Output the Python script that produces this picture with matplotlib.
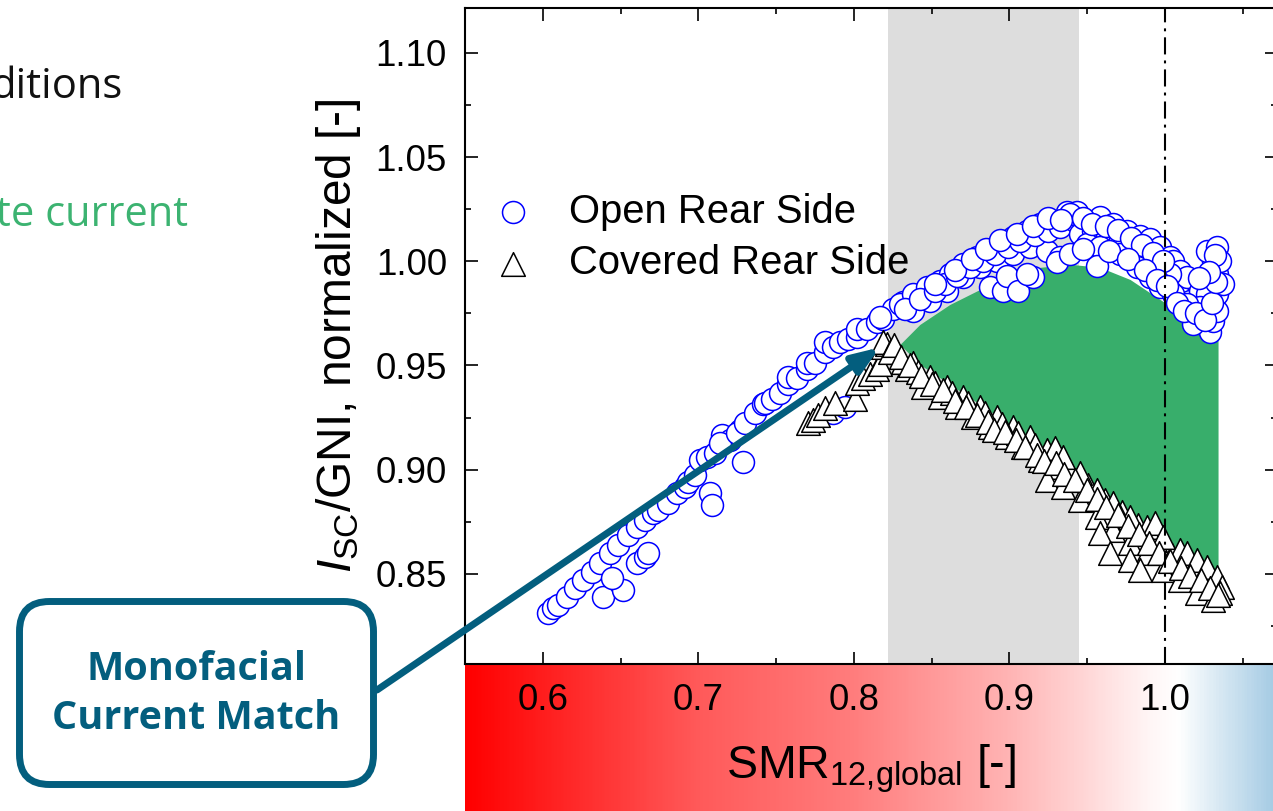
import matplotlib
matplotlib.use("Agg")
import matplotlib.pyplot as plt
import numpy as np
from matplotlib.colors import LinearSegmentedColormap
from matplotlib.patches import FancyBboxPatch
from matplotlib.ticker import MultipleLocator

plt.rcParams['font.family'] = 'Liberation Sans'
plt.rcParams['mathtext.fontset'] = 'custom'
plt.rcParams['mathtext.rm'] = 'Liberation Sans'
plt.rcParams['mathtext.it'] = 'Liberation Sans:italic'

# --- data ---
open_x = [0.6032, 0.6064, 0.6096, 0.6154, 0.6206, 0.6257, 0.6315, 0.6367, 0.6431, 0.6482,
          0.6547, 0.6605, 0.6656, 0.6707, 0.6740, 0.6804, 0.6862, 0.6913, 0.6932, 0.6977,
          0.7010, 0.7055, 0.7106, 0.7151, 0.7203, 0.7267,
          0.6386, 0.6514, 0.6444, 0.6605, 0.6656, 0.6675, 0.7074, 0.7087, 0.7286,
          0.7138, 0.7248, 0.7299, 0.7363, 0.7415, 0.7428, 0.7473, 0.7524, 0.7576, 0.7576,
          0.7633, 0.7698, 0.7698, 0.7749, 0.7814, 0.7814, 0.7865, 0.7910, 0.7961, 0.8019,
          0.8019, 0.8084, 0.8148, 0.8186, 0.8251, 0.8315, 0.8379, 0.7865, 0.7942,
          0.8167, 0.8296, 0.8379, 0.8469, 0.8553, 0.8617, 0.8701, 0.8791, 0.8875, 0.8958,
          0.9022, 0.9113, 0.9196, 0.9280, 0.9370, 0.9434,
          0.8379, 0.8489, 0.8598, 0.8701, 0.8810, 0.8920, 0.9022, 0.9132, 0.9241, 0.9325,
          0.8875, 0.8958, 0.8984, 0.9055, 0.9151, 0.9113, 0.9305,
          0.8328, 0.8424, 0.8521, 0.8585, 0.8662, 0.8746, 0.8830, 0.8907, 0.8990, 0.9068,
          0.9164, 0.9248, 0.9325, 0.9421,
          0.9389, 0.9498, 0.9582, 0.9666, 0.9756, 0.9839, 0.9904, 0.9968, 1.0032,
          0.9453, 0.9537, 0.9627, 0.9711, 0.9794, 0.9871, 0.9936, 1.0000,
          0.9389, 0.9498, 0.9582, 0.9711, 0.9820, 0.9904, 0.9968, 0.9563,
          1.0051, 1.0096, 1.0077, 1.0141, 1.0161, 1.0180, 1.0225, 1.0244, 1.0289, 1.0309,
          1.0334, 1.0334, 1.0354, 1.0334, 1.0309, 1.0270, 1.0334, 1.0354, 1.0373, 1.0270,
          1.0225, 1.0180, 1.0032, 1.0051, 1.0141,
          0.8520, 0.8650, 0.8760, 0.8850, 0.8940, 0.9050, 0.9150, 0.9250, 0.9330, 0.9470,
          0.9530, 0.9620, 0.9700, 0.9780, 0.9850, 0.9920, 0.9990, 0.9470, 0.9640, 0.9760,
          0.9870, 0.9950, 1.0010, 1.0080, 1.0120, 1.0200, 1.0260, 1.0300, 1.0330, 1.0320,
          1.0280, 1.0220]
open_y = [0.8313, 0.8337, 0.8351, 0.8389, 0.8433, 0.8471, 0.8510, 0.8553, 0.8601, 0.8639,
          0.8688, 0.8726, 0.8760, 0.8793, 0.8808, 0.8841, 0.8889, 0.8918, 0.8942, 0.8976,
          0.9048, 0.9063, 0.9082, 0.9168, 0.9144, 0.9192,
          0.8389, 0.8423, 0.8481, 0.8553, 0.8582, 0.8601, 0.8889, 0.8832, 0.9038,
          0.9130, 0.9178, 0.9226, 0.9274, 0.9313, 0.9322, 0.9337, 0.9370, 0.9409, 0.9447,
          0.9442, 0.9481, 0.9514, 0.9514, 0.9563, 0.9611, 0.9591, 0.9611, 0.9625, 0.9639,
          0.9673, 0.9673, 0.9707, 0.9721, 0.9769, 0.9803, 0.9817, 0.9274, 0.9303,
          0.9731, 0.9793, 0.9841, 0.9875, 0.9904, 0.9938, 0.9986, 1.0019, 1.0048, 1.0082,
          1.0115, 1.0144, 1.0178, 1.0192, 1.0236, 1.0236,
          0.9760, 0.9808, 0.9856, 0.9923, 0.9971, 1.0000, 1.0034, 1.0067, 1.0048, 1.0019,
          0.9875, 0.9856, 0.9928, 0.9856, 0.9923, 0.9938, 0.9995,
          0.9769, 0.9817, 0.9856, 0.9889, 0.9928, 0.9971, 1.0000, 1.0034, 1.0067, 1.0096,
          1.0125, 1.0144, 1.0163, 1.0192,
          1.0226, 1.0192, 1.0212, 1.0178, 1.0144, 1.0120, 1.0106, 1.0067, 1.0019,
          1.0130, 1.0144, 1.0130, 1.0106, 1.0067, 1.0034, 0.9986, 0.9952,
          1.0034, 1.0082, 1.0067, 1.0034, 0.9971, 0.9923, 0.9875, 0.9976,
          1.0000, 0.9952, 0.9856, 0.9923, 0.9808, 0.9731, 0.9856, 0.9697, 0.9663, 0.9712,
          0.9760, 0.9841, 0.9889, 0.9938, 1.0000, 1.0048, 1.0067, 1.0000, 0.9889, 0.9841,
          0.9779, 0.9697, 0.9938, 0.9841, 0.9793,
          0.9890, 0.9960, 1.0010, 1.0060, 1.0100, 1.0130, 1.0170, 1.0210, 1.0200, 1.0210,
          1.0180, 1.0170, 1.0150, 1.0110, 1.0080, 1.0040, 1.0000, 1.0060, 1.0050, 1.0010,
          0.9960, 0.9910, 0.9880, 0.9800, 0.9760, 0.9750, 0.9720, 0.9800, 0.9900, 1.0030,
          0.9950, 0.9920]

covered_x = [0.7704, 0.7736, 0.7768, 0.7814, 0.7878, 0.8006, 0.8019, 0.8058, 0.8103, 0.8148,
             0.8167, 0.8186, 0.8212,
             0.8186, 0.8277, 0.8379, 0.8489, 0.8598, 0.8701, 0.8810, 0.8920, 0.9022, 0.9132,
             0.9241, 0.9305,
             0.8341, 0.8444, 0.8553, 0.8662, 0.8765, 0.8875, 0.8984, 0.9087, 0.9196, 0.9305,
             0.8231, 0.8315, 0.8411, 0.8521, 0.8630, 0.8733, 0.8842, 0.8952, 0.9055, 0.9164,
             0.9260, 0.9389, 0.9505, 0.9614, 0.9723, 0.9826, 0.9936, 1.0045, 1.0161, 1.0257,
             1.0322,
             0.9293, 0.9344, 0.9453, 0.9563, 0.9666, 0.9775, 0.9884, 0.9936, 0.9987, 1.0096,
             1.0141, 1.0206, 1.0270, 1.0334, 1.0367,
             0.9241, 0.9344, 0.9453, 0.9563, 0.9666, 0.9775, 0.9884, 0.9987, 1.0096, 1.0206,
             1.0309, 1.0354,
             0.9582, 0.9646, 0.9775, 0.9839,
             0.8260, 0.8300, 0.8360, 0.8430, 0.8500, 0.8570, 0.8650, 0.8720, 0.8790, 0.8860,
             0.8900, 0.8970, 0.9040, 0.9100, 0.9180, 0.9220, 0.9300, 0.9350, 0.9420, 0.9500,
             0.9560, 0.9620, 0.9700, 0.9760, 0.9830, 0.9900, 0.9960, 1.0030, 1.0100, 1.0160,
             1.0230, 1.0290, 1.0340]
covered_y = [0.9226, 0.9240, 0.9264, 0.9298, 0.9322, 0.9337, 0.9418, 0.9442, 0.9457, 0.9481,
             0.9505, 0.9591, 0.9601,
             0.9611, 0.9563, 0.9514, 0.9447, 0.9399, 0.9351, 0.9303, 0.9255, 0.9207, 0.9159,
             0.9096, 0.9082,
             0.9481, 0.9399, 0.9351, 0.9303, 0.9255, 0.9207, 0.9159, 0.9111, 0.9048, 0.9014,
             0.9567, 0.9519, 0.9471, 0.9418, 0.9370, 0.9322, 0.9274, 0.9221, 0.9178, 0.9120,
             0.9048, 0.8990, 0.8928, 0.8856, 0.8798, 0.8736, 0.8663, 0.8591, 0.8529, 0.8481,
             0.8438,
             0.9106, 0.9063, 0.8986, 0.8904, 0.8841, 0.8774, 0.8726, 0.8745, 0.8678, 0.8615,
             0.8601, 0.8567, 0.8534, 0.8486, 0.8438,
             0.8952, 0.8918, 0.8856, 0.8774, 0.8712, 0.8649, 0.8601, 0.8519, 0.8471, 0.8409,
             0.8375, 0.8409,
             0.8697, 0.8601, 0.8567, 0.8519,
             0.9600, 0.9540, 0.9500, 0.9450, 0.9410, 0.9380, 0.9330, 0.9300, 0.9260, 0.9230,
             0.9190, 0.9180, 0.9140, 0.9110, 0.9070, 0.9040, 0.9030, 0.8980, 0.8950, 0.8900,
             0.8860, 0.8820, 0.8780, 0.8730, 0.8690, 0.8650, 0.8600, 0.8560, 0.8530, 0.8490,
             0.8470, 0.8430, 0.8400]

# green area between the two curves
fill_x = [0.8296, 0.8424, 0.8617, 0.8810, 0.9003, 0.9196, 0.9389, 0.9582, 0.9775, 0.9968, 1.0161, 1.0341]
fill_top = [0.9601, 0.9697, 0.9793, 0.9865, 0.9938, 0.9971, 0.9986, 0.9971, 0.9913, 0.9817, 0.9721, 0.9625]
fill_bottom = [0.9601, 0.9505, 0.9409, 0.9313, 0.9216, 0.9120, 0.9000, 0.8880, 0.8760, 0.8639, 0.8567, 0.8495]

x_ticks = [0.6, 0.7, 0.8, 0.9, 1.0]
x_tick_labels = ["0.6", "0.7", "0.8", "0.9", "1.0"]
y_ticks = [0.85, 0.90, 0.95, 1.00, 1.05, 1.10]
y_tick_labels = ["0.85", "0.90", "0.95", "1.00", "1.05", "1.10"]
span_lo, span_hi = 0.822, 0.945
smr_ref = 1.0
arrow_target = (0.8167, 0.9587)

# colour bar under the x axis (SMR value -> colour)
bar_nodes = [0.55, 0.60, 0.70, 0.80, 0.90, 0.95, 0.99, 1.01, 1.03, 1.072]
bar_colors = ['#FF0000', '#FF1E1E', '#FF5A5A', '#FF7D7D', '#FFB4B4', '#FFD7D7',
              '#FFF5F5', '#FFFFFF', '#E1EEF6', '#A5CBE4']

teal = '#035E7E'
W, H = 1273, 811
xmin, xmax = 0.55, 1.072
ymin, ymax = 0.8067, 1.1216

fig = plt.figure(figsize=(W / 100, H / 100), dpi=100)
ax = fig.add_axes([465 / W, 1 - 664 / H, (1277 - 465) / W, (664 - 8) / H])
cax = fig.add_axes([465 / W, 0, (1277 - 465) / W, (811 - 664) / H])
cax.set_zorder(0)
ax.set_zorder(2)

# gradient bar
pos = [(v - xmin) / (xmax - xmin) for v in bar_nodes]
cmap = LinearSegmentedColormap.from_list('smr', list(zip(pos, bar_colors)))
grad = np.linspace(xmin, xmax, 600).reshape(1, -1)
cax.imshow(grad, aspect='auto', cmap=cmap, vmin=xmin, vmax=xmax,
           extent=[xmin, xmax, 0, 1])
cax.set_xlim(xmin, xmax)
cax.axis('off')

# main plot
ax.axvspan(span_lo, span_hi, color='#DDDDDD', lw=0, zorder=0.5)
ax.fill_between(fill_x, fill_bottom, fill_top, color='#38AE6B', lw=0, zorder=1)
ax.scatter(open_x, open_y, s=250, marker='o', facecolors='white', edgecolors='#0000FF',
           linewidths=1.1, zorder=3, label='Open Rear Side')
ax.scatter(covered_x, covered_y, s=290, marker='^', facecolors='white', edgecolors='black',
           linewidths=1.1, zorder=4, label='Covered Rear Side')
ax.axvline(smr_ref, color='black', lw=1.5, linestyle=(0, (8.2, 2.9, 1.4, 2.9)), zorder=5)

ax.set_xlim(xmin, xmax)
ax.set_ylim(ymin, ymax)
ax.set_xticks(x_ticks)
ax.set_xticklabels(x_tick_labels)
ax.set_yticks(y_ticks)
ax.set_yticklabels(y_tick_labels)
ax.xaxis.set_minor_locator(MultipleLocator(0.05))
ax.yaxis.set_minor_locator(MultipleLocator(0.025))
ax.tick_params(which='both', direction='in', top=True, right=True, width=1.2)
ax.tick_params(which='major', length=9)
ax.tick_params(which='minor', length=4.5)
ax.tick_params(axis='x', labelsize=26.5, pad=14)
ax.tick_params(axis='y', labelsize=26.5, pad=13)
for s in ax.spines.values():
    s.set_linewidth(1.5)

ax.set_ylabel(r'$I_{\mathrm{SC}}$/GNI, normalized [-]', fontsize=34.5)
ax.yaxis.set_label_coords(-0.126, 0.5)
ax.set_xlabel(r'SMR$_{\mathrm{12{,}global}}$ [-]', fontsize=33.5)
ax.xaxis.set_label_coords(0.5, -0.12)

ax.legend(loc='upper left', bbox_to_anchor=(0.034, 0.718), frameon=False, fontsize=28.8,
          handlelength=1.0, handletextpad=0.9, labelspacing=0.33, borderpad=0,
          borderaxespad=0, scatterpoints=1)

# callout
ax.annotate('', xy=arrow_target, xycoords='data',
            xytext=(377 / W, 1 - 690 / H), textcoords='figure fraction',
            arrowprops=dict(arrowstyle='-|>,head_length=1.6,head_width=0.6', color=teal,
                            lw=5, mutation_scale=10, shrinkA=0, shrinkB=0),
            annotation_clip=False, zorder=6)
box = FancyBboxPatch((0.195, 0.265), 3.54, 1.83, boxstyle='round,pad=0,rounding_size=0.3',
                     transform=fig.dpi_scale_trans, facecolor='white', edgecolor=teal, lw=5)
fig.patches.append(box)
fig.text(196 / W, 1 - 694 / H, 'Monofacial\nCurrent Match', ha='center', va='center',
         fontsize=28.5, fontweight='bold', family='Open Sans', color=teal, linespacing=1.32)

# slide text cut at the left edge
fig.text(123 / W, 1 - 98 / H, 'ditions', ha='right', va='baseline', fontsize=30,
         family='Open Sans', color='#111111')
fig.text(188 / W, 1 - 226 / H, 'te current', ha='right', va='baseline', fontsize=30,
         family='Open Sans', color='#3CB371')

fig.savefig('out.png', dpi=100)
